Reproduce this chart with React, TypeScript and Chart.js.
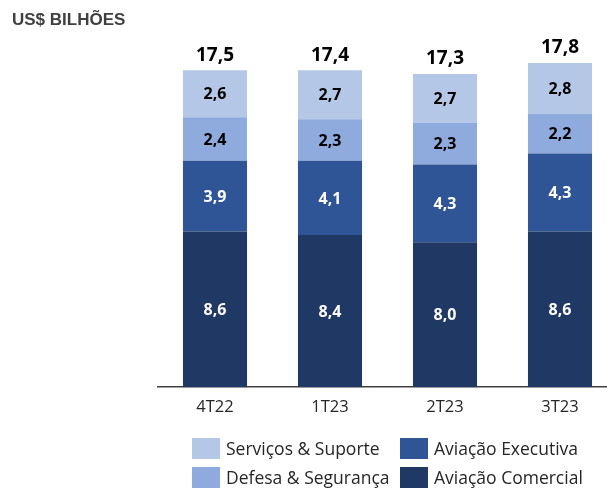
import React, { useEffect, useRef } from "react";
import { Chart, registerables } from "chart.js";

Chart.register(...registerables);

const categories = ["4T22", "1T23", "2T23", "3T23"];
const comercial = [8.6, 8.4, 8.0, 8.6];
const executiva = [3.9, 4.1, 4.3, 4.3];
const defesa = [2.4, 2.3, 2.3, 2.2];
const servicos = [2.6, 2.7, 2.7, 2.8];
const totals = [17.5, 17.4, 17.3, 17.8];

const COLORS = {
  servicos: "#B4C7E7",
  defesa: "#8FAADC",
  executiva: "#2F5597",
  comercial: "#203864",
};

const FONT = "'Open Sans', 'DejaVu Sans', sans-serif";
const fmt = (v: number) => v.toFixed(1).replace(".", ",");

const labelPlugin = {
  id: "valueLabels",
  afterDatasetsDraw(chart: any) {
    const ctx = chart.ctx;
    ctx.save();
    ctx.textAlign = "center";
    ctx.textBaseline = "middle";
    const n = chart.data.datasets.length;
    chart.data.datasets.forEach((ds: any, di: number) => {
      const meta = chart.getDatasetMeta(di);
      meta.data.forEach((el: any, i: number) => {
        const v = ds.data[i];
        ctx.font = `bold 16px ${FONT}`;
        ctx.fillStyle = ds.labelColor;
        ctx.fillText(fmt(v), el.x, (el.y + el.base) / 2 + 1);
        if (di === n - 1) {
          ctx.font = `bold 19px ${FONT}`;
          ctx.fillStyle = "#000000";
          ctx.fillText(fmt(totals[i]), el.x, el.y - 15);
        }
      });
    });
    ctx.restore();
  },
};

function App() {
  const ref = useRef<HTMLCanvasElement | null>(null);

  useEffect(() => {
    if (!ref.current) return;
    const chart = new Chart(ref.current, {
      type: "bar",
      data: {
        labels: categories,
        datasets: [
          { label: "Aviação Comercial", data: comercial, backgroundColor: COLORS.comercial, labelColor: "#ffffff" } as any,
          { label: "Aviação Executiva", data: executiva, backgroundColor: COLORS.executiva, labelColor: "#ffffff" } as any,
          { label: "Defesa & Segurança", data: defesa, backgroundColor: COLORS.defesa, labelColor: "#000000" } as any,
          { label: "Serviços & Suporte", data: servicos, backgroundColor: COLORS.servicos, labelColor: "#000000" } as any,
        ],
      },
      options: {
        responsive: false,
        animation: false,
        maintainAspectRatio: false,
        datasets: { bar: { categoryPercentage: 1, barPercentage: 0.557, borderWidth: 0 } },
        layout: { padding: { left: 157.5, right: 0.5, top: 25, bottom: 61 } },
        plugins: { legend: { display: false }, tooltip: { enabled: false }, title: { display: false } },
        scales: {
          x: {
            stacked: true,
            grid: { display: false, drawTicks: false },
            border: { display: true, color: "#404040", width: 1.5 },
            ticks: { font: { family: FONT, size: 16.5, lineHeight: 1.2 }, color: "#262626", padding: 10 },
          },
          y: { stacked: true, display: false, min: 0, max: 20 },
        },
      },
      plugins: [labelPlugin],
    });
    return () => chart.destroy();
  }, []);

  const legendItems = [
    { label: "Serviços & Suporte", color: COLORS.servicos, left: 192, top: 438 },
    { label: "Aviação Executiva", color: COLORS.executiva, left: 400, top: 438 },
    { label: "Defesa & Segurança", color: COLORS.defesa, left: 192, top: 467 },
    { label: "Aviação Comercial", color: COLORS.comercial, left: 400, top: 467 },
  ];

  return (
    <div style={{ position: "absolute", left: 0, top: 0, width: 607, height: 488, overflow: "hidden", background: "#fff" }}>
      <canvas ref={ref} width={618} height={488} style={{ position: "absolute", left: 0, top: 0, width: 618, height: 488 }} />
      <div
        style={{
          position: "absolute",
          left: 12,
          top: 10,
          font: "bold 17px 'Liberation Sans', Arial, sans-serif",
          color: "#404040",
          whiteSpace: "nowrap",
        }}
      >
        US$ BILHÕES
      </div>
      {legendItems.map((it) => (
        <div key={it.label} style={{ position: "absolute", left: it.left, top: it.top, height: 21, display: "flex", alignItems: "center", whiteSpace: "nowrap" }}>
          <div style={{ width: 28, height: 21, background: it.color, marginRight: 6, flex: "none" }} />
          <span style={{ font: `17.5px ${FONT}`, lineHeight: "21px", color: "#262626" }}>{it.label}</span>
        </div>
      ))}
    </div>
  );
}

export default App;
